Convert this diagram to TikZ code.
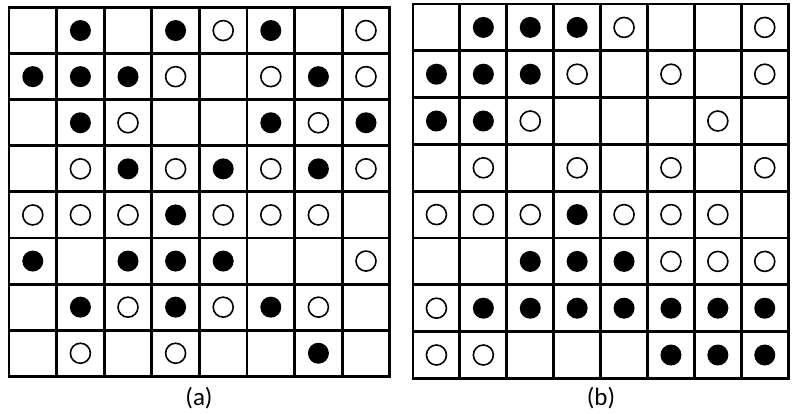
\documentclass[tikz,border=0pt]{standalone}
\usepackage{fontspec}
\setmainfont{Carlito}
\newcommand\dotgrid[6]{%
  \draw[gridline] (#2,#3) rectangle (#2+8*#4,#3+8*#5);
  \foreach \i in {1,...,7} {
    \draw[gridline] (#2+\i*#4,#3) -- (#2+\i*#4,#3+8*#5);
    \draw[gridline] (#2,#3+\i*#5) -- (#2+8*#4,#3+\i*#5);
  }
  \foreach \row [count=\r] in {#6} {
    \foreach \v [count=\c] in \row {
      \ifcase\v\relax
      \or \node[blackdot] (#1-\r-\c) at (#2+\c*#4-0.5*#4,#3+\r*#5-0.5*#5) {};
      \or \node[whitedot] (#1-\r-\c) at (#2+\c*#4-0.5*#4,#3+\r*#5-0.5*#5) {};
      \fi
    }
  }
}
\begin{document}
\begin{tikzpicture}[x=1pt,y=-1pt,
  gridline/.style={line width=2.9pt,line cap=rect},
  blackdot/.style={circle,fill=black,inner sep=0pt,minimum size=21pt},
  whitedot/.style={circle,draw=black,fill=white,line width=1.6pt,inner sep=0pt,minimum size=20pt},
  caption/.style={font=\fontsize{25}{30}\selectfont,inner sep=0pt}]
\useasboundingbox (0,0) rectangle (800,413);
\dotgrid{a}{9}{7.5}{47.6}{46.1}{
  {0,1,0,1,2,1,0,2},
  {1,1,1,2,0,2,1,2},
  {0,1,2,0,0,1,2,1},
  {0,2,1,2,1,2,1,2},
  {2,2,2,1,2,2,2,0},
  {1,0,1,1,1,0,0,2},
  {0,1,2,1,2,1,2,0},
  {0,2,0,2,0,0,1,0}}
\dotgrid{b}{413}{4}{46.9}{46.8}{
  {0,1,1,1,2,0,0,2},
  {1,1,1,2,0,2,0,2},
  {1,1,2,0,0,0,2,0},
  {0,2,0,2,0,2,0,2},
  {2,2,2,1,2,2,2,0},
  {0,0,1,1,1,2,2,2},
  {2,1,1,1,1,1,1,1},
  {2,2,0,0,0,1,1,1}}
\node[caption] (capa) at (199,398) {(a)};
\node[caption] (capb) at (601,398) {(b)};
\end{tikzpicture}
\end{document}
